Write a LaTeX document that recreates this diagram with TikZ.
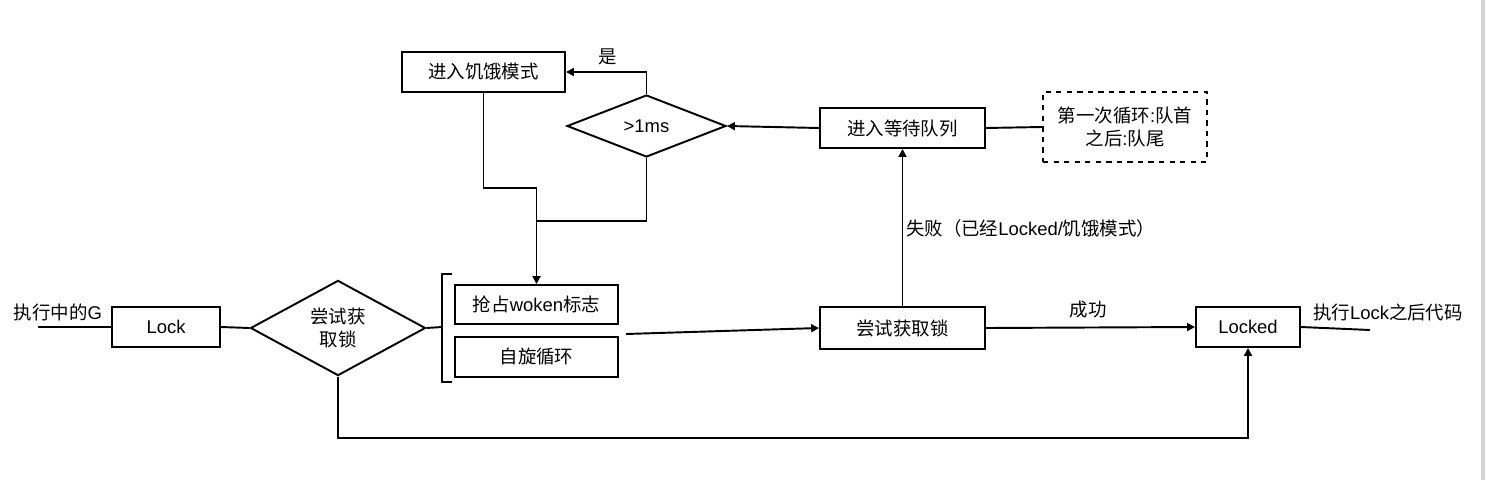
\documentclass[tikz,border=0pt]{standalone}
\usepackage{fontspec}
\setmainfont{Liberation Sans}
\newfontfamily\cjk{Noto Sans CJK SC}
\newcommand\zh[1]{{\cjk #1}}
\usetikzlibrary{shapes.geometric,arrows.meta}
\begin{document}
\begin{tikzpicture}[x=0.02cm,y=-0.02cm,
  every node/.style={font=\fontsize{10.5pt}{13pt}\selectfont},
  box/.style={draw,line width=1.1pt,inner sep=0pt,align=center},
  dia/.style={draw,line width=1.1pt,diamond,inner sep=0pt,align=center},
  conn/.style={line width=1.1pt},
  arr/.style={line width=1.1pt,-{Triangle[length=4.5pt,width=4.5pt]}},
  lbl/.style={inner sep=1pt}]
\useasboundingbox (0,0) rectangle (1486,480);
\fill[white] (0,0) rectangle (1486,480);
\fill[black!17] (1481,0) rectangle (1485,480);

\node[box,minimum width=2.16cm,minimum height=0.8cm] (lock) at (166,327) {Lock};
\node[dia,minimum width=3.5cm,minimum height=1.76cm] (d1) at (338,328) {\zh{尝试获}\\\zh{取锁}};
\node[box,minimum width=3.26cm,minimum height=0.78cm] (grab) at (536.5,304.5) {\zh{抢占}woken\zh{标志}};
\node[box,minimum width=3.26cm,minimum height=0.8cm] (spin) at (536.5,357) {\zh{自旋循环}};
\node[box,minimum width=3.3cm,minimum height=0.84cm] (try) at (902.5,328) {\zh{尝试获取锁}};
\node[box,minimum width=2.08cm,minimum height=0.8cm] (locked) at (1248,327) {Locked};
\node[box,minimum width=3.3cm,minimum height=0.8cm] (queue) at (902.5,128) {\zh{进入等待队列}};
\node[box,dashed,minimum width=3.28cm,minimum height=1.4cm] (note) at (1125,127) {\zh{第一次循环}:\zh{队首}\\\zh{之后}:\zh{队尾}};
\node[dia,minimum width=3.18cm,minimum height=1.24cm] (d2) at (646.5,126) {>1ms};
\node[box,minimum width=3.26cm,minimum height=0.8cm] (starve) at (483.5,72) {\zh{进入饥饿模式}};

\node[lbl] (tin) at (58,312) {\zh{执行中的}G};
\node[lbl] (tout) at (1388,312) {\zh{执行}Lock\zh{之后代码}};
\node[lbl] (tok) at (1088,310) {\zh{成功}};
\node[lbl,anchor=west] (tfail) at (904,228) {\zh{失败（已经}Locked/\zh{饥饿模式）}};
\node[lbl] (tyes) at (608,57) {\zh{是}};

\coordinate (in) at (38,327);
\coordinate (out) at (1370,330);
\coordinate (bm) at (442,327);
\coordinate (bt) at (442,274);
\coordinate (bb) at (442,382);
\coordinate (bt2) at (452,274);
\coordinate (bb2) at (452,382);
\coordinate (s) at (626,334);
\coordinate (bot) at (340,438);
\coordinate (j1) at (536.5,188);
\coordinate (j2) at (536.5,221);

\draw[conn] (in) -- (lock.west);
\draw[conn] (lock.east) -- (d1.west);
\draw[conn] (d1.east) -- (bm);
\draw[conn] (bt2) -- (bt) -- (bb) -- (bb2);
\draw[arr] (s) -- (try.west);
\draw[arr] (try.east) -- (locked.west);
\draw[conn] (locked.east) -- (out);
\draw[arr] (d1.south) |- (bot) -| (locked.south);
\draw[arr] (try.north) -- (queue.south);
\draw[conn] (queue.east) -- (note.west);
\draw[arr] (queue.west) -- (d2.east);
\draw[arr] (d2.north) |- (starve.east);
\draw[arr] (starve.south) |- (j1) -- (grab.north);
\draw[conn] (d2.south) |- (j2);
\end{tikzpicture}
\end{document}
